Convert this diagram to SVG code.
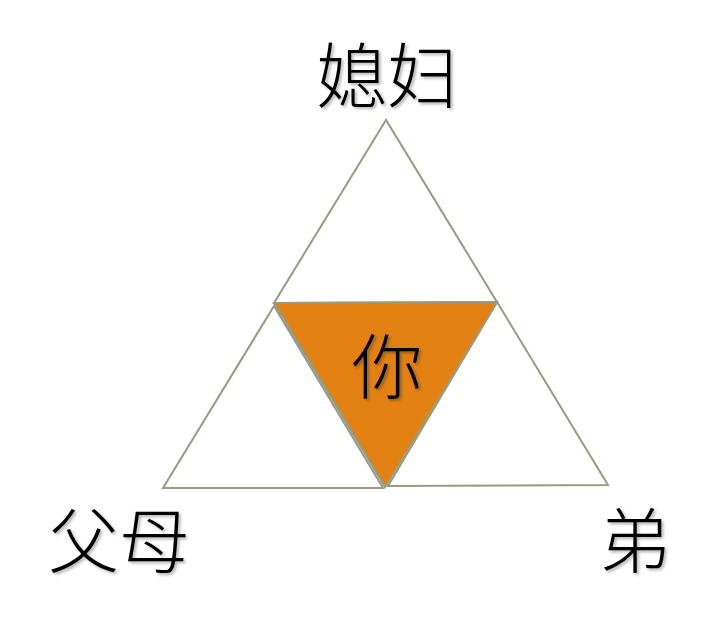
<svg xmlns="http://www.w3.org/2000/svg" width="719" height="620" viewBox="0 0 719 620">
<style>
.tri{fill:#ffffff;stroke:#959c81;stroke-width:2;stroke-linejoin:miter}
.core{fill:#e38213;stroke:#959c81;stroke-width:2}
.lbl{font-family:"Noto Sans CJK SC","Noto Sans CJK JP",sans-serif;font-size:71px;font-weight:300;fill:#000;text-anchor:middle;dominant-baseline:central;filter:url(#sh)}
</style>
<defs>
<filter id="sh" x="-20%" y="-20%" width="140%" height="140%">
<feDropShadow dx="2" dy="2" stdDeviation="1.5" flood-color="#000" flood-opacity="0.3"/>
</filter>
</defs>
<rect width="719" height="620" fill="#ffffff"/>
<g id="top">
<polygon class="tri" points="386,120 274,303 497,302"/>
<text class="lbl" x="387" y="71">媳妇</text>
</g>
<g id="left">
<polygon class="tri" points="274,306 163,488 383,488"/>
<text class="lbl" x="119" y="536">父母</text>
</g>
<g id="right">
<polygon class="tri" points="497,302 388,486 608,485"/>
<text class="lbl" x="635" y="536">弟</text>
</g>
<g id="center">
<polygon class="core" points="274,303 497,302 385,487"/>
<text class="lbl" x="387" y="362">你</text>
</g>
<g id="connectors"></g>
</svg>
